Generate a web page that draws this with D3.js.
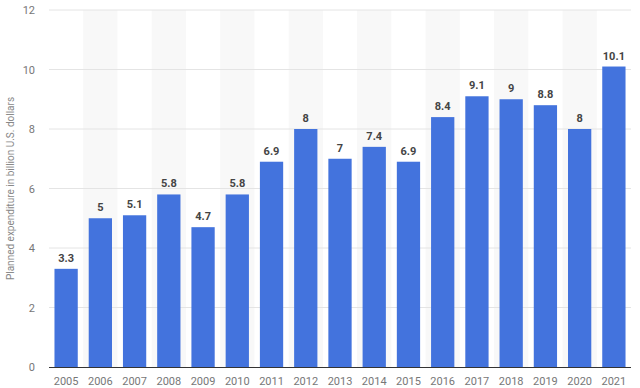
<!DOCTYPE html>
<html>
<head>
<meta charset="utf-8">
<script src="https://cdn.jsdelivr.net/npm/d3@7"></script>
<style>
  body { margin: 0; background: #fff; }
  svg { display: block; font-family: Roboto, "Open Sans", sans-serif; }
</style>
</head>
<body>
<svg width="640" height="388"></svg>
<script>
var years = ['2005', '2006', '2007', '2008', '2009', '2010', '2011', '2012', '2013',
    '2014', '2015', '2016', '2017', '2018', '2019', '2020', '2021'];
var spend = [3.3, 5, 5.1, 5.8, 4.7, 5.8, 6.9, 8, 7, 7.4, 6.9, 8.4, 9.1, 9, 8.8, 8, 10.1];
var yTicks = [0, 2, 4, 6, 8, 10, 12];

var svg = d3.select('svg');
var plotLeft = 49, plotRight = 631, plotTop = 10, plotBottom = 367;

var x = d3.scaleBand().domain(years).range([plotLeft, plotRight]).paddingInner(0.32).paddingOuter(0.16);
var y = d3.scaleLinear().domain([0, 12]).range([plotBottom, plotTop]);

// alternating column shading
svg.selectAll('rect.stripe')
    .data(years.filter(function (d, i) { return i % 2 === 1; }))
    .enter()
    .append('rect')
    .attr('class', 'stripe')
    .attr('x', function (d) { return x(d) - x.step() * x.paddingInner() / 2; })
    .attr('width', x.step())
    .attr('y', plotTop)
    .attr('height', plotBottom - plotTop)
    .attr('fill', '#f8f8f8');

// gridlines
svg.selectAll('line.grid')
    .data(yTicks.slice(1))
    .enter()
    .append('line')
    .attr('class', 'grid')
    .attr('x1', plotLeft).attr('x2', plotRight)
    .attr('y1', function (d) { return y(d); })
    .attr('y2', function (d) { return y(d); })
    .attr('stroke', '#e4e4e4');

svg.selectAll('text.ytick')
    .data(yTicks)
    .enter()
    .append('text')
    .attr('class', 'ytick')
    .attr('x', 35)
    .attr('y', function (d) { return y(d) + 4; })
    .attr('text-anchor', 'end')
    .attr('font-size', 11)
    .attr('fill', '#777')
    .text(function (d) { return d; });

svg.selectAll('rect.bar')
    .data(spend)
    .enter()
    .append('rect')
    .attr('class', 'bar')
    .attr('x', function (d, i) { return x(years[i]); })
    .attr('width', x.bandwidth())
    .attr('y', function (d) { return y(d); })
    .attr('height', function (d) { return y(0) - y(d); })
    .attr('fill', '#4373dd');

svg.selectAll('text.val')
    .data(spend)
    .enter()
    .append('text')
    .attr('class', 'val')
    .attr('x', function (d, i) { return x(years[i]) + x.bandwidth() / 2; })
    .attr('y', function (d) { return y(d) - 7; })
    .attr('text-anchor', 'middle')
    .attr('font-size', 11)
    .attr('font-weight', 'bold')
    .attr('fill', '#444')
    .text(function (d) { return d; });

// baseline
svg.append('line')
    .attr('x1', plotLeft).attr('x2', plotRight)
    .attr('y1', plotBottom + 0.5).attr('y2', plotBottom + 0.5)
    .attr('stroke', '#333');

svg.selectAll('text.xtick')
    .data(years)
    .enter()
    .append('text')
    .attr('class', 'xtick')
    .attr('x', function (d) { return x(d) + x.bandwidth() / 2; })
    .attr('y', 385)
    .attr('text-anchor', 'middle')
    .attr('font-size', 11)
    .attr('fill', '#777')
    .text(function (d) { return d; });

svg.append('text')
    .attr('transform', 'translate(14,' + (plotTop + plotBottom) / 2 + ') rotate(-90)')
    .attr('text-anchor', 'middle')
    .attr('font-size', 10)
    .attr('fill', '#888')
    .text('Planned expenditure in billion U.S. dollars');
</script>
</body>
</html>
